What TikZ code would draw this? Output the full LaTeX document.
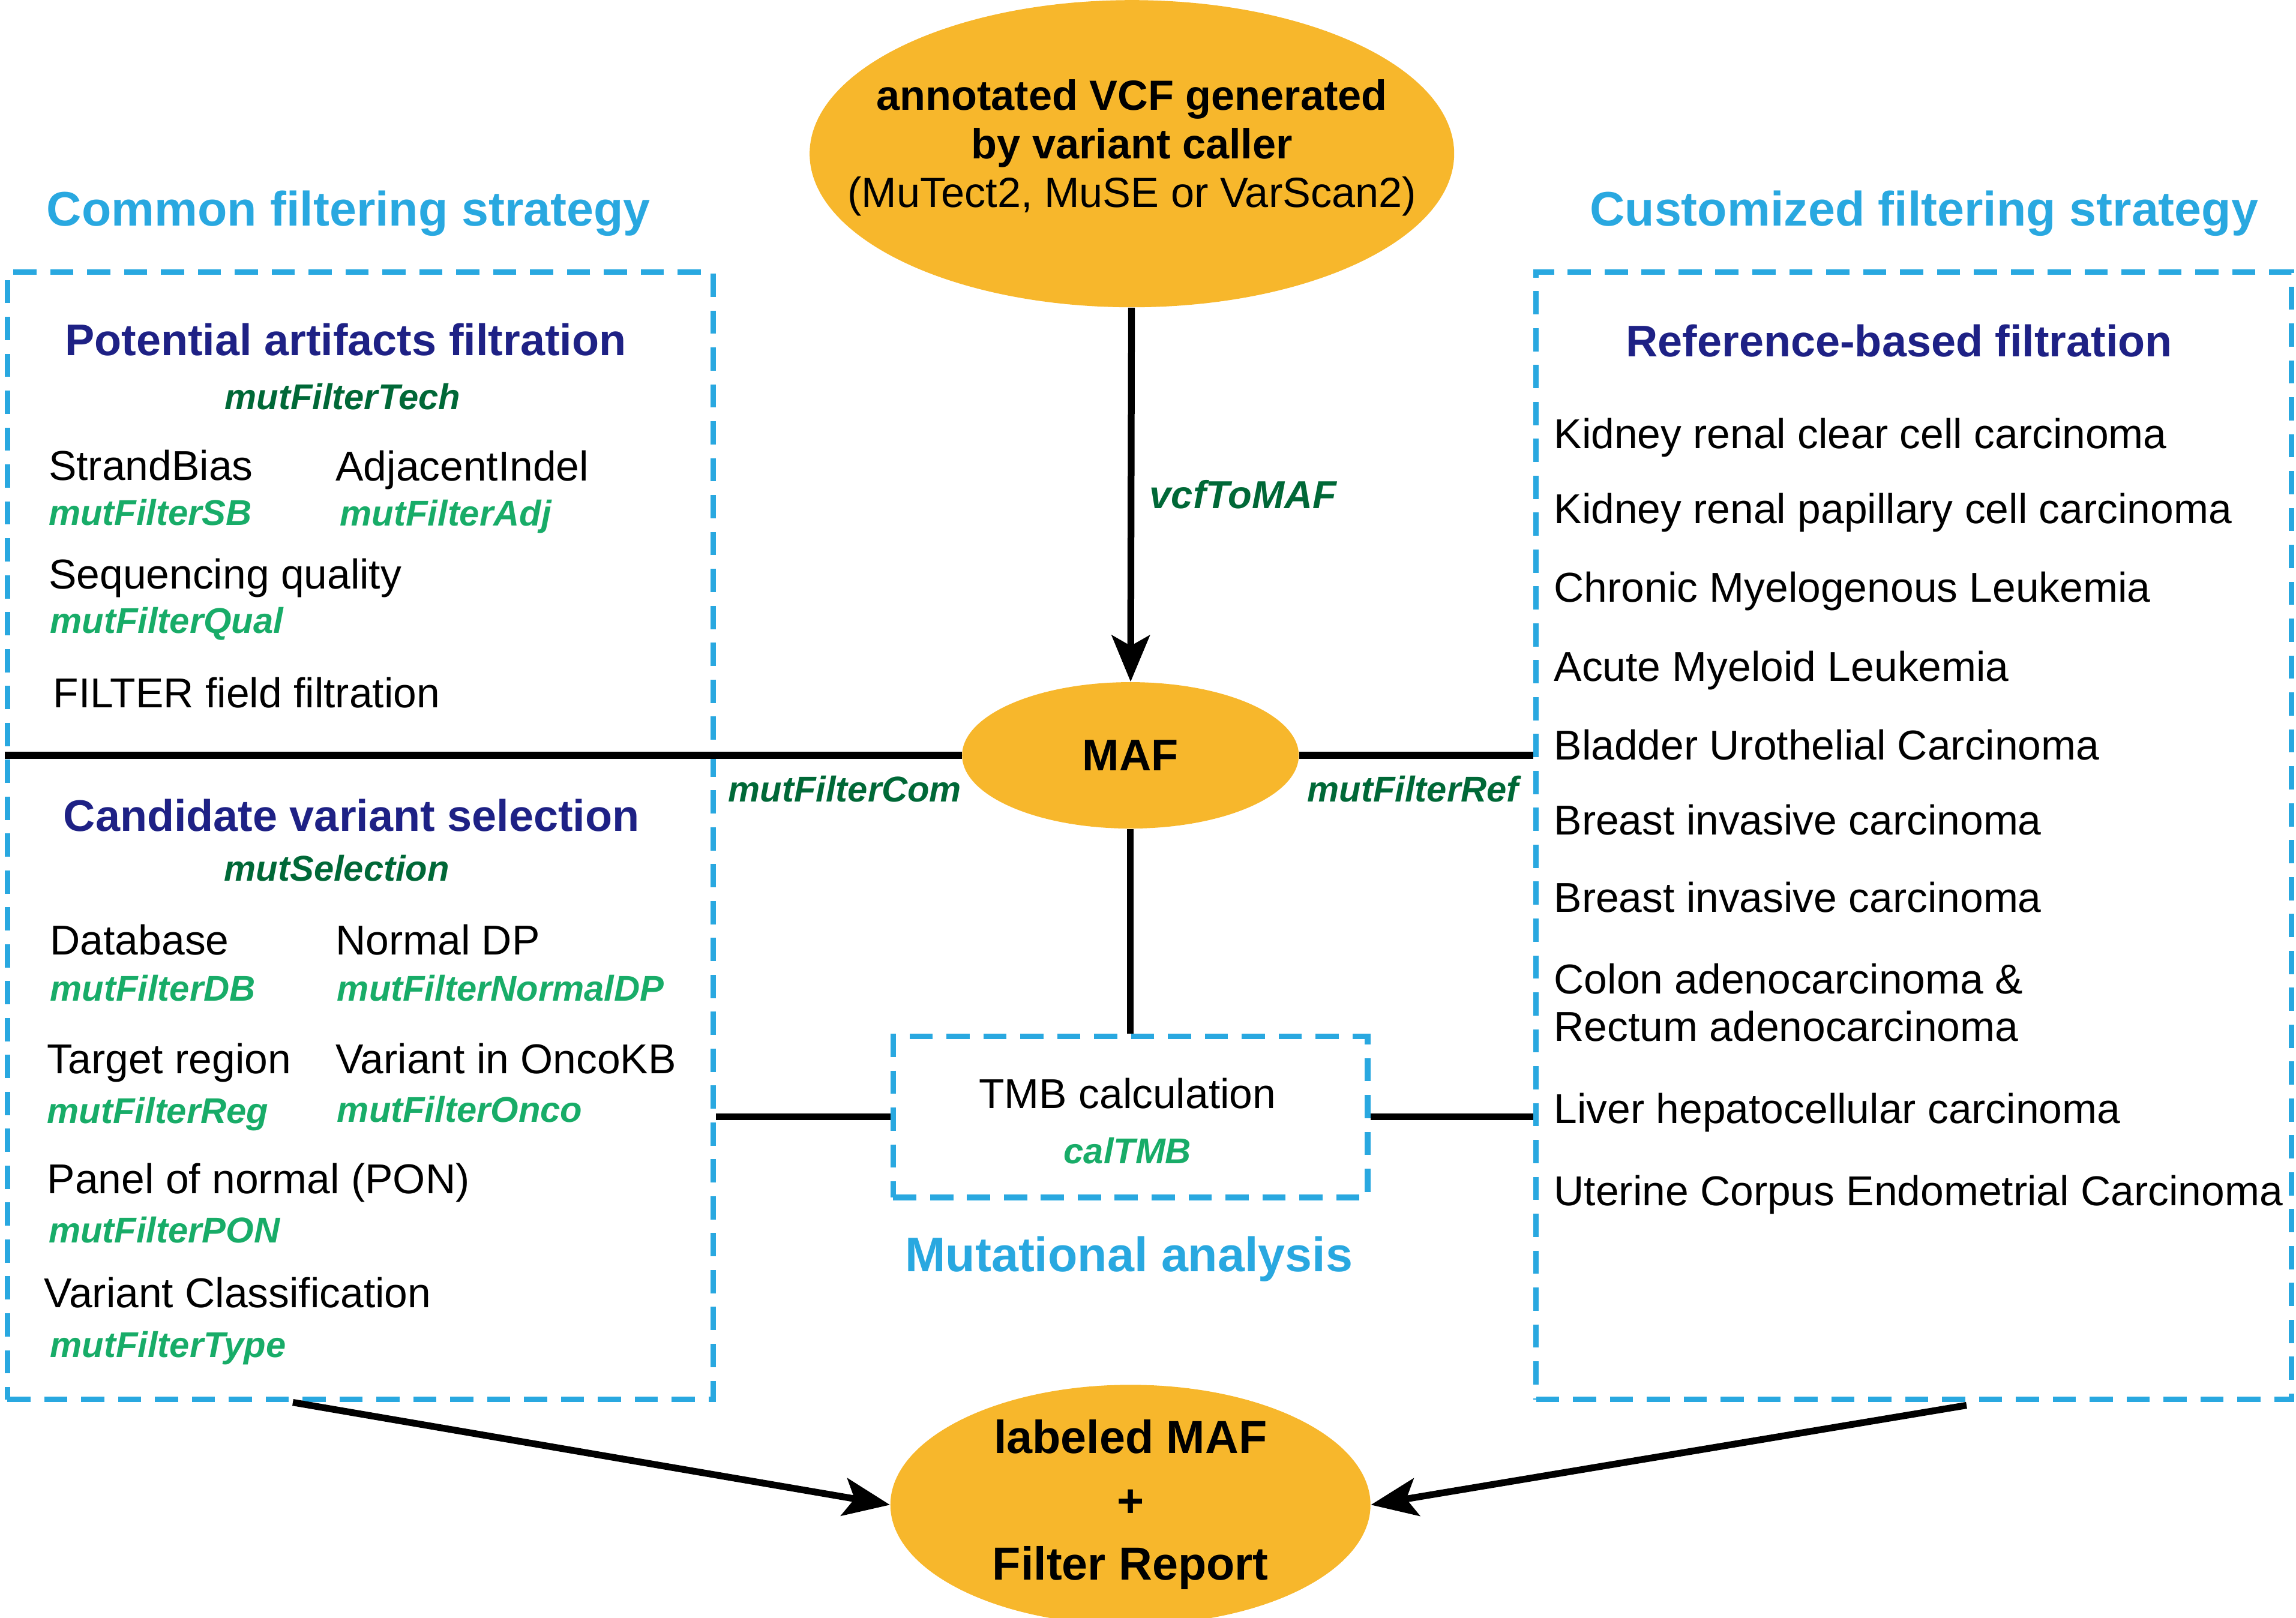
\documentclass[tikz,border=0pt]{standalone}
\usepackage{fontspec}
\setmainfont{Liberation Sans}
\usetikzlibrary{shapes.geometric, arrows.meta, positioning, fit}
\definecolor{cOrange}{RGB}{247,183,44}
\definecolor{cBlue}{RGB}{41,168,224}
\definecolor{cNavy}{RGB}{30,33,133}
\definecolor{cDark}{RGB}{0,104,55}
\definecolor{cFunc}{RGB}{24,172,104}
\tikzset{
	blob/.style={ellipse, fill=cOrange, inner sep=0pt, align=center},
	dashbox/.style={draw=cBlue, line width=2.6pt, dash pattern=on 11pt off 6.5pt, inner sep=0pt},
	bigtitle/.style={inner sep=0pt, text=cBlue, font=\fontsize{23}{27}\selectfont\bfseries},
	subtitle/.style={inner sep=0pt, text=cNavy, font=\fontsize{21}{25}\selectfont\bfseries},
	item/.style={anchor=west, inner sep=0pt, align=left, font=\fontsize{19.8}{22.5}\selectfont},
	fname/.style={anchor=west, inner sep=0pt, text=cFunc, font=\fontsize{17}{20}\selectfont\bfseries\itshape},
	fmain/.style={inner sep=0pt, text=cDark, font=\fontsize{17}{20}\selectfont\bfseries\itshape},
	link/.style={line width=3.2pt},
	flowarrow/.style={-{Stealth[length=22pt, width=18pt, inset=5pt]}, line width=3.2pt},
}

\begin{document}
\begin{tikzpicture}[x=0.244mm, y=-0.244mm]
	\useasboundingbox (0,0) rectangle (1568,1105);
	% central column
	\node[blob, minimum width=10.74cm, minimum height=5.12cm] (vcf) at (773,105) {};
	\node[inner sep=0pt, align=center, font=\fontsize{20}{23}\selectfont] (vcftxt) at (773,101)
		{\textbf{annotated VCF generated}\\ \textbf{by variant caller}\\ (MuTect2, MuSE or VarScan2)};
	\node[blob, minimum width=5.61cm, minimum height=2.44cm, font=\fontsize{21}{25}\selectfont\bfseries] (maf) at (772,516) {MAF};
	\node[blob, minimum width=8.0cm, minimum height=3.66cm, font=\fontsize{22}{30}\selectfont\bfseries] (report) at (772,1028)
		{labeled MAF\\ +\\ Filter Report};
	\node[dashbox, fit={(610,708) (934,818)}] (tmb) {};
	\node[item, anchor=center] (tmbtxt) at (770,747) {TMB calculation};
	\node[fname, anchor=center] (caltmb) at (770,786) {calTMB};
	\node[bigtitle] (mutan) at (771,860) {Mutational analysis};
	\node[fmain, font=\fontsize{18.5}{22}\selectfont\bfseries\itshape] (vcftomaf) at (849,338) {vcfToMAF};

	% common filtering strategy
	\node[bigtitle] (common) at (238,146) {Common filtering strategy};
	\node[dashbox, fit={(5,186) (487,956)}] (leftbox) {};
	\node[subtitle] (artif) at (236,232) {Potential artifacts filtration};
	\node[fmain] (tech) at (234,271) {mutFilterTech};
	\node[item] (sb) at (33,318) {StrandBias};
	\node[item] (adj) at (229,321) {AdjacentIndel};
	\node[fname] (sbfn) at (33,350) {mutFilterSB};
	\node[fname] (adjfn) at (232,353) {mutFilterAdj};
	\node[item] (qual) at (33,395) {Sequencing quality};
	\node[fname] (qualfn) at (34,426) {mutFilterQual};
	\node[item] (filt) at (36,473) {FILTER field filtration};
	\node[subtitle] (cand) at (240,557) {Candidate variant selection};
	\node[fmain] (sel) at (230,593) {mutSelection};
	\node[item] (db) at (34,642) {Database};
	\node[item] (ndp) at (229,642) {Normal DP};
	\node[fname] (dbfn) at (34,675) {mutFilterDB};
	\node[fname] (ndpfn) at (230,675) {mutFilterNormalDP};
	\node[item] (reg) at (32,726) {Target region};
	\node[item] (onco) at (229,723) {Variant in OncoKB};
	\node[fname] (regfn) at (32,761) {mutFilterReg};
	\node[fname] (oncofn) at (230,758) {mutFilterOnco};
	\node[item] (pon) at (32,808) {Panel of normal (PON)};
	\node[fname] (ponfn) at (33,840) {mutFilterPON};
	\node[item] (vtype) at (30,883) {Variant Classification};
	\node[fname] (vtypefn) at (34,921) {mutFilterType};
	\node[fmain] (com) at (577,539) {mutFilterCom};

	% customized filtering strategy
	\node[bigtitle] (custom) at (1314,146) {Customized filtering strategy};
	\node[dashbox, fit={(1049,186) (1565,956)}] (rightbox) {};
	\node[subtitle] (refb) at (1297,233) {Reference-based filtration};
	\foreach \y/\txt [count=\i] in {299/Kidney renal clear cell carcinoma, 350/Kidney renal papillary cell carcinoma,
		404/Chronic Myelogenous Leukemia, 458/Acute Myeloid Leukemia, 509/Bladder Urothelial Carcinoma,
		560/Breast invasive carcinoma, 613/Breast invasive carcinoma, 685/{Colon adenocarcinoma \&\\ Rectum adenocarcinoma},
		760/Liver hepatocellular carcinoma, 816/Uterine Corpus Endometrial Carcinoma}
		\node[item] (ref\i) at (1061,\y) {\txt};
	\node[fmain] (refn) at (965,539) {mutFilterRef};

	% connectors
	\draw[flowarrow] (vcf) -- (maf);
	\draw[link] (leftbox.west |- maf.west) -- (maf.west);
	\draw[link] (maf.east) -- (rightbox.west |- maf.east);
	\draw[link] (maf) -- (tmb);
	\draw[link] (leftbox.east |- tmb.west) -- (tmb.west);
	\draw[link] (tmb.east) -- (rightbox.west |- tmb.east);
	\coordinate (lfoot) at (200,958);
	\coordinate (rfoot) at (1343,960);
	\draw[flowarrow] (lfoot) -- (report.west);
	\draw[flowarrow] (rfoot) -- (report.east);
\end{tikzpicture}
\end{document}
